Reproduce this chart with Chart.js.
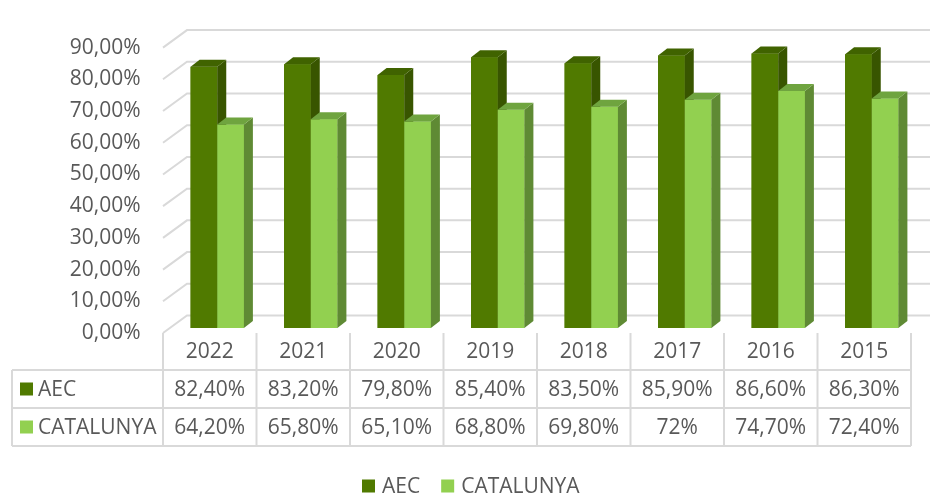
<!DOCTYPE html>
<html>
<head>
<meta charset="utf-8">
<script src="https://cdn.jsdelivr.net/npm/chart.js@4/dist/chart.umd.min.js"></script>
<style>
html,body{margin:0;padding:0;background:#fff;}
#wrap{width:930px;height:495px;position:relative;}
</style>
</head>
<body>
<div id="wrap"><canvas id="c" width="930" height="495"></canvas></div>
<script>
const categories = ["2022","2021","2020","2019","2018","2017","2016","2015"];
const aecValues = [82.4, 83.2, 79.8, 85.4, 83.5, 85.9, 86.6, 86.3];
const catValues = [64.2, 65.8, 65.1, 68.8, 69.8, 72.0, 74.7, 72.4];
const aecLabels = ["82,40%","83,20%","79,80%","85,40%","83,50%","85,90%","86,60%","86,30%"];
const catLabels = ["64,20%","65,80%","65,10%","68,80%","69,80%","72%","74,70%","72,40%"];
const seriesNames = ["AEC","CATALUNYA"];

const FONT = "'Open Sans', 'Noto Sans', sans-serif";
const TXT = "#595959";
const GRID = "#d9d9d9";
const faces = [
  {front:"#507a00", side:"#385500", top:"#406300"},
  {front:"#92d050", side:"#5f8a34", top:"#6fa43f"}
];
const DX = 9, DY = 7;          // bar depth
const WX = 24;                 // wall depth (x)
const SHIFT = 7.5;             // bars sit mid-depth, table/front are shifted left

const threeD = {
  id: "threeD",
  beforeDatasetsDraw(chart) {
    const ctx = chart.ctx, y = chart.scales.y, ca = chart.chartArea;
    const fx = ca.left - SHIFT, bx = fx + WX;
    ctx.save();
    ctx.strokeStyle = GRID; ctx.lineWidth = 2;
    y.ticks.forEach(t => {
      const p = y.getPixelForValue(t.value);
      const fy = p + 5, by = p - 12.5;
      ctx.beginPath();
      ctx.moveTo(fx, fy); ctx.lineTo(bx, by); ctx.lineTo(930, by);
      ctx.stroke();
    });
    ctx.restore();
  },
  afterDatasetsDraw(chart) {
    const ctx = chart.ctx;
    ctx.save();
    // paint series back-to-front in index order so each bar's depth faces sit behind the next bar
    chart.data.datasets.forEach((ds, i) => {
      const meta = chart.getDatasetMeta(i), f = faces[i];
      meta.data.forEach(bar => {
        bar.draw(ctx);
        const x0 = bar.x - bar.width / 2, x1 = bar.x + bar.width / 2;
        const yt = bar.y, yb = bar.base;
        ctx.fillStyle = f.side;
        ctx.beginPath();
        ctx.moveTo(x1, yt); ctx.lineTo(x1 + DX, yt - DY);
        ctx.lineTo(x1 + DX, yb - DY); ctx.lineTo(x1, yb); ctx.closePath(); ctx.fill();
        ctx.fillStyle = f.top;
        ctx.beginPath();
        ctx.moveTo(x0, yt); ctx.lineTo(x1, yt); ctx.lineTo(x1 + DX, yt - DY);
        ctx.lineTo(x0 + DX, yt - DY); ctx.closePath(); ctx.fill();
      });
    });
    ctx.restore();
  },
  afterDraw(chart) {
    const ctx = chart.ctx, x = chart.scales.x, ca = chart.chartArea;
    const step = (ca.right - ca.left) / categories.length;
    const left = ca.left - SHIFT, right = ca.right - SHIFT;
    const rTop = 333, r1 = 370, r2 = 408, r3 = 446, tLeft = 12;
    ctx.save();
    ctx.strokeStyle = GRID; ctx.lineWidth = 2;
    ctx.beginPath();
    for (let i = 0; i <= categories.length; i++) {
      const xx = left + i * step;
      ctx.moveTo(xx, rTop); ctx.lineTo(xx, r3);
    }
    ctx.moveTo(tLeft, r1); ctx.lineTo(tLeft, r3);
    [r1, r2, r3].forEach(r => { ctx.moveTo(tLeft, r); ctx.lineTo(right, r); });
    ctx.stroke();

    ctx.fillStyle = TXT;
    ctx.font = "21px " + FONT;
    ctx.textAlign = "center"; ctx.textBaseline = "middle";
    categories.forEach((c, i) => {
      const cx = x.getPixelForValue(i) - SHIFT;
      ctx.fillText(c, cx, (rTop + r1) / 2 + 1);
      ctx.fillText(aecLabels[i], cx, (r1 + r2) / 2 + 1);
      ctx.fillText(catLabels[i], cx, (r2 + r3) / 2 + 1);
    });
    // row headers
    ctx.textAlign = "left";
    [[r1, r2], [r2, r3]].forEach((rr, k) => {
      const cy = (rr[0] + rr[1]) / 2;
      ctx.fillStyle = faces[k].front;
      ctx.fillRect(20, cy - 6.5, 13, 13);
      ctx.fillStyle = TXT;
      ctx.fillText(chart.data.datasets[k].label, 38, cy + 1);
    });
    // legend
    const ly = 486;
    let lx = 362;
    chart.data.datasets.forEach((ds, k) => {
      ctx.fillStyle = faces[k].front;
      ctx.fillRect(lx, ly - 6.5, 13, 13);
      ctx.fillStyle = TXT;
      ctx.fillText(ds.label, lx + 20, ly + 1);
      lx += 20 + ctx.measureText(ds.label).width + 21;
    });
    ctx.restore();
  }
};

new Chart(document.getElementById("c"), {
  type: "bar",
  data: {
    labels: categories,
    datasets: [
      {label: seriesNames[0], data: aecValues, backgroundColor: faces[0].front},
      {label: seriesNames[1], data: catValues, backgroundColor: faces[1].front}
    ]
  },
  options: {
    responsive: false,
    animation: false,
    events: [],
    layout: {padding: {left: 0, right: 11.5, top: 26.5, bottom: 167}},
    datasets: {bar: {categoryPercentage: 0.57, barPercentage: 1.0, borderWidth: 0}},
    scales: {
      x: {display: false},
      y: {
        min: 0, max: 90,
        afterFit: s => { s.width = 170.5; },
        grid: {display: false, drawTicks: false},
        border: {display: false},
        ticks: {
          stepSize: 10, padding: 30, labelOffset: 5,
          color: TXT, font: {size: 21, family: FONT},
          callback: v => v.toFixed(2).replace(".", ",") + "%"
        }
      }
    },
    plugins: {legend: {display: false}, tooltip: {enabled: false}}
  },
  plugins: [threeD]
});
</script>
</body>
</html>
